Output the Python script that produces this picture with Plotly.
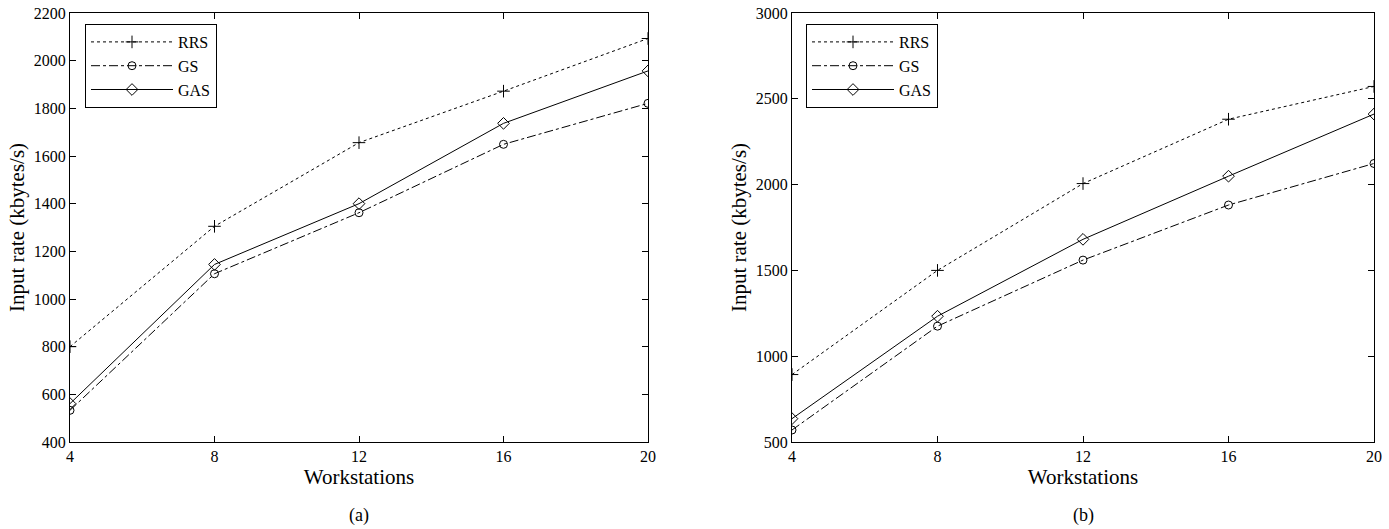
import plotly.graph_objects as go

workstations = [4, 8, 12, 16, 20]

rrs_a = [800, 1305, 1656, 1872, 2093]
gs_a = [533, 1106, 1362, 1649, 1821]
gas_a = [561, 1145, 1400, 1737, 1957]

rrs_b = [893, 1500, 2006, 2381, 2572]
gs_b = [570, 1175, 1560, 1881, 2123]
gas_b = [636, 1233, 1681, 2049, 2411]

series_names = ["RRS", "GS", "GAS"]
captions = ["(a)", "(b)"]

W, H = 1389, 529
FONT = "Liberation Serif"

styles = {
    "RRS": dict(dash="dot", symbol="cross-thin-open", size=9),
    "GS": dict(dash="dashdot", symbol="circle-open", size=8),
    "GAS": dict(dash="solid", symbol="diamond-open", size=9),
}

fig = go.Figure()

panels = [
    (dict(RRS=rrs_a, GS=gs_a, GAS=gas_a), "x", "y", "legend"),
    (dict(RRS=rrs_b, GS=gs_b, GAS=gas_b), "x2", "y2", "legend2"),
]
for data, xa, ya, lg in panels:
    for name in series_names:
        st = styles[name]
        fig.add_trace(go.Scatter(
            x=workstations, y=data[name], name=name, mode="lines+markers",
            xaxis=xa, yaxis=ya, legend=lg,
            line=dict(color="black", width=1, dash=st["dash"]),
            marker=dict(symbol=st["symbol"], size=st["size"], color="black",
                        line=dict(color="black", width=1)),
        ))

def px_x(p):
    return p / W

def px_y(p):
    return 1 - p / H

axis_common = dict(
    showgrid=False, zeroline=False, showline=True, linecolor="black", linewidth=1,
    mirror="ticks", ticks="inside", ticklen=6, tickcolor="black", tickwidth=1,
    tickfont=dict(family=FONT, size=16, color="black"), automargin=False,
)

ydom = [px_y(442), px_y(13)]
xdom_a = [px_x(70), px_x(648)]
xdom_b = [px_x(792), px_x(1374)]

xtitle = dict(text="Workstations", font=dict(family=FONT, size=21), standoff=0)
ytitle = dict(text="Input rate (kbytes/s)", font=dict(family=FONT, size=21), standoff=3)

legend_common = dict(
    xanchor="left", yanchor="top", bordercolor="black", borderwidth=1, bgcolor="white",
    font=dict(family=FONT, size=16), itemwidth=82, tracegroupgap=0,
)

fig.update_layout(
    width=W, height=H,
    margin=dict(l=0, r=0, t=0, b=0),
    paper_bgcolor="white", plot_bgcolor="white",
    font=dict(family=FONT, color="black"),
    xaxis=dict(domain=xdom_a, range=[4, 20], tickvals=workstations, anchor="y",
               title=xtitle, **axis_common),
    yaxis=dict(domain=ydom, range=[400, 2200], dtick=200, anchor="x",
               title=ytitle, **axis_common),
    xaxis2=dict(domain=xdom_b, range=[4, 20], tickvals=workstations, anchor="y2",
                title=xtitle, **axis_common),
    yaxis2=dict(domain=ydom, range=[500, 3000], dtick=500, anchor="x2",
                title=ytitle, **axis_common),
    legend=dict(x=px_x(85), y=px_y(24), **legend_common),
    legend2=dict(x=px_x(806), y=px_y(24), **legend_common),
    showlegend=True,
)

for cap, dom in zip(captions, [xdom_a, xdom_b]):
    fig.add_annotation(text=cap, x=(dom[0] + dom[1]) / 2, y=px_y(515),
                       xref="paper", yref="paper", showarrow=False,
                       xanchor="center", yanchor="middle",
                       font=dict(family=FONT, size=18, color="black"))

fig.write_html(
    "out.html",
    config={"displayModeBar": False},
    post_script="document.body.style.margin='0px';document.body.style.overflow='hidden';",
)
